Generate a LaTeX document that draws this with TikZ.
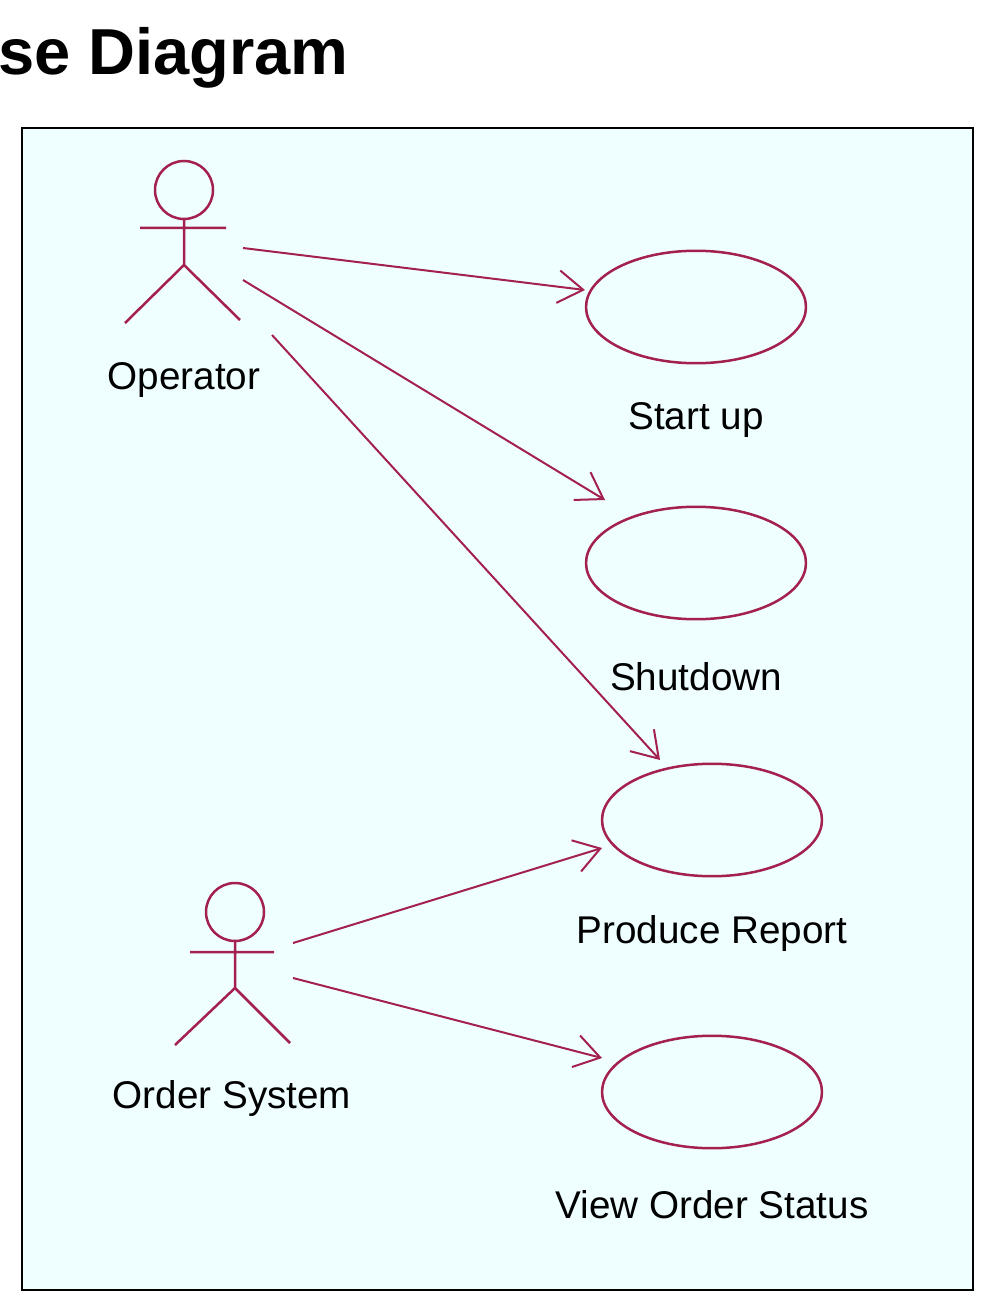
\documentclass[tikz,border=0pt]{standalone}
\usepackage{fontspec}
\setmainfont{Liberation Sans}
\usetikzlibrary{arrows.meta,shapes.geometric}
\definecolor{umlred}{HTML}{A3204F}
\definecolor{paper}{HTML}{EFFFFF}
\begin{document}
\begin{tikzpicture}[x=0.02cm,y=-0.02cm,
    every node/.style={inner sep=0pt},
    useCase/.style={draw=umlred, line width=0.5mm, ellipse, minimum width=4.4cm, minimum height=2.25cm},
    caseLabel/.style={font=\fontsize{22}{24}\selectfont},
    actorLine/.style={draw=umlred, line width=0.5mm},
    assoc/.style={draw=umlred, line width=0.4mm, -{Straight Barb[length=5mm,width=6.5mm]}}
  ]
  \useasboundingbox (0,0) rectangle (986,1314);
  \node[anchor=base west, font=\bfseries\fontsize{37}{40}\selectfont] (title) at (-2,75) {se Diagram};
  \draw[fill=paper, line width=0.4mm] (22,128) rectangle (973,1290);

  % Actors
  \draw[actorLine] (184,190) circle (29) (184,219) -- (184,265) (140,228) -- (226,228)
    (125,323) -- (184,265) -- (240,320);
  \node[caseLabel] (operator) at (184,380) {Operator};
  \draw[actorLine] (235,912) circle (29) (235,941) -- (235,988) (190,952) -- (274,952)
    (175,1045) -- (235,988) -- (290,1043);
  \node[caseLabel] (ordersys) at (232,1098) {Order System};

  % Use cases
  \node[useCase] (startup) at (696,307) {};
  \node[caseLabel] (startupL) at (696,420) {Start up};
  \node[useCase] (shutdown) at (696,563) {};
  \node[caseLabel] (shutdownL) at (696,677) {Shutdown};
  \node[useCase] (report) at (712,820) {};
  \node[caseLabel] (reportL) at (712,933) {Produce Report};
  \node[useCase] (status) at (712,1092) {};
  \node[caseLabel] (statusL) at (712,1205) {View Order Status};

  \coordinate (opA) at (243,248);
  \coordinate (opB) at (243,280);
  \coordinate (opC) at (272,335);
  \coordinate (osA) at (293,943);
  \coordinate (osB) at (293,978);
  \coordinate (startupE) at (585,290);
  \coordinate (shutdownE) at (605,500);
  \coordinate (reportE) at (660,760);
  \coordinate (reportW) at (602,848);
  \coordinate (statusW) at (602,1058);

  \draw[assoc] (opA) -- (startupE);
  \draw[assoc] (opB) -- (shutdownE);
  \draw[assoc] (opC) -- (reportE);
  \draw[assoc] (osA) -- (reportW);
  \draw[assoc] (osB) -- (statusW);
\end{tikzpicture}
\end{document}
